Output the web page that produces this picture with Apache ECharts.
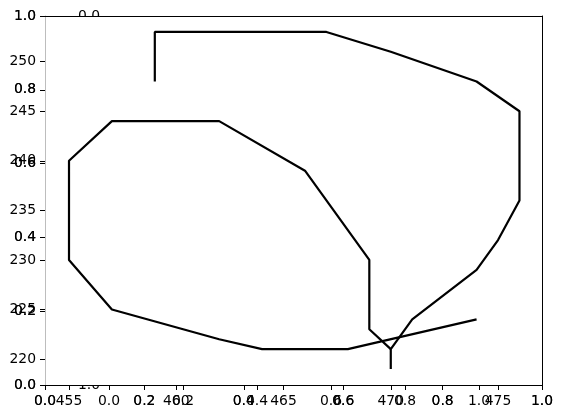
<!DOCTYPE html>
<html>
<head>
<meta charset="utf-8">
<script src="https://cdn.jsdelivr.net/npm/echarts@6/dist/echarts.min.js"></script>
<style>html,body{margin:0;padding:0;background:#fff;}#c{width:562px;height:418px;}</style>
</head>
<body>
<div id="c"></div>
<script>
// outer path (x, y)
var pathAX = [470, 470, 471, 474, 475, 476, 476, 474, 470, 467, 459, 459];
var pathAY = [219, 221, 224, 229, 232, 236, 245, 248, 251, 253, 253, 248];
// inner path (x, y)
var pathBX = [470, 469, 469, 466, 462, 457, 455, 455, 457, 462, 464, 468, 474];
var pathBY = [221, 223, 230, 239, 244, 244, 240, 230, 225, 222, 221, 221, 224];
// tick labels
var dataXTicks = [455, 460, 465, 470, 475];
var dataYTicks = [220, 225, 230, 235, 240, 245, 250];
var unitTicks = [0, 0.2, 0.4, 0.6, 0.8, 1.0];

function zip(a, b) { return a.map(function (v, i) { return [v, b[i]]; }); }

var FONT = 'DejaVu Sans';
var FS = 13.9;
var lab = function (extra) {
  return Object.assign({ color: '#000', fontFamily: FONT, fontSize: FS }, extra || {});
};
var tick = { show: true, length: 5, lineStyle: { color: '#000', width: 1 } };
var fmt1 = function (v) { return v.toFixed(1); };

function unitX(gridIndex, z, showLine) {
  return {
    type: 'value', gridIndex: gridIndex, min: 0, max: 1, interval: 0.2, position: 'bottom', z: z,
    axisLine: { show: showLine, onZero: false, lineStyle: { color: '#000', width: 1 } },
    axisTick: tick, splitLine: { show: false },
    axisLabel: lab({ margin: 9, formatter: fmt1 })
  };
}
function unitY(gridIndex, z, showLine, inverse) {
  return {
    type: 'value', gridIndex: gridIndex, min: 0, max: 1, interval: 0.2, position: 'left', z: z, inverse: !!inverse,
    axisLine: { show: showLine, onZero: false, lineStyle: { color: '#bdbdbd', width: 1 } },
    axisTick: tick, splitLine: { show: false },
    axisLabel: lab({ margin: 9, formatter: fmt1 })
  };
}

var option = {
  animation: false,
  backgroundColor: '#fff',
  grid: [
    { left: 45, top: 16, width: 497, height: 369, containLabel: false },
    { left: 109, top: 16, width: 370, height: 369, containLabel: false }
  ],
  graphic: [
    { type: 'rect', z: 2, silent: true, shape: { x: 45, y: 16, width: 497, height: 369 }, style: { fill: '#fff' } }
  ],
  xAxis: [
    unitX(0, 5, true),
    unitX(0, 5, false),
    {
      type: 'value', gridIndex: 0, min: 453.881, max: 477.05, position: 'bottom', z: 5,
      axisLine: { show: false },
      axisTick: Object.assign({ customValues: dataXTicks }, tick),
      splitLine: { show: false },
      axisLabel: lab({ margin: 9, customValues: dataXTicks })
    },
    unitX(1, 1, false),
    {
      type: 'value', gridIndex: 0, min: 0, max: 1, position: 'top', z: 5,
      axisLine: { show: true, onZero: false, lineStyle: { color: '#000', width: 1 } },
      axisTick: { show: false }, axisLabel: { show: false }, splitLine: { show: false }
    }
  ],
  yAxis: [
    unitY(0, 5, true),
    unitY(0, 5, false),
    {
      type: 'value', gridIndex: 0, min: 217.38, max: 254.61, position: 'left', z: 5,
      axisLine: { show: false },
      axisTick: Object.assign({ customValues: dataYTicks }, tick),
      splitLine: { show: false },
      axisLabel: lab({ margin: 9, customValues: dataYTicks })
    },
    unitY(1, 1, false, true),
    {
      type: 'value', gridIndex: 0, min: 0, max: 1, position: 'right', z: 5,
      axisLine: { show: true, onZero: false, lineStyle: { color: '#000', width: 1 } },
      axisTick: { show: false }, axisLabel: { show: false }, splitLine: { show: false }
    }
  ],
  series: [
    {
      type: 'line', xAxisIndex: 2, yAxisIndex: 2, data: zip(pathAX, pathAY), z: 6,
      showSymbol: false, symbol: 'none', lineStyle: { color: '#000', width: 2.2 }, silent: true
    },
    {
      type: 'line', xAxisIndex: 2, yAxisIndex: 2, data: zip(pathBX, pathBY), z: 6,
      showSymbol: false, symbol: 'none', lineStyle: { color: '#000', width: 2.2 }, silent: true
    }
  ]
};
var chart = echarts.init(document.getElementById('c'), null, { renderer: 'canvas' });
chart.setOption(option);
</script>
</body>
</html>
